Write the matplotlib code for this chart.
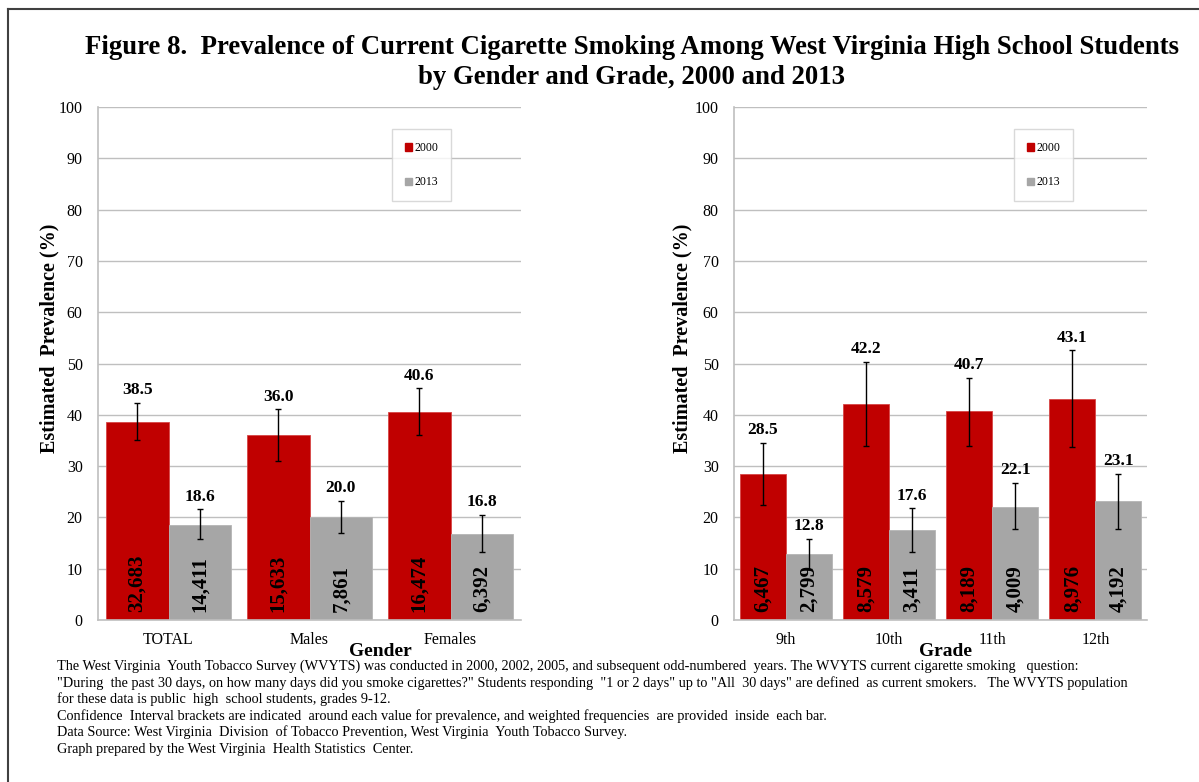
import matplotlib
matplotlib.use("Agg")
import matplotlib.pyplot as plt
from matplotlib.lines import Line2D
from matplotlib.patches import Patch
import numpy as np

plt.rcParams['font.family'] = ['Liberation Serif', 'DejaVu Serif']

# ---------------- data ----------------
gender_cats = ["TOTAL", "Males", "Females"]
gender_2000 = [38.5, 36.0, 40.6]
gender_2013 = [18.6, 20.0, 16.8]
gender_2000_lo = [35.1, 31.0, 36.1]
gender_2000_hi = [42.3, 41.1, 45.2]
gender_2013_lo = [15.8, 17.0, 13.3]
gender_2013_hi = [21.6, 23.2, 20.5]
gender_n2000 = ["32,683", "15,633", "16,474"]
gender_n2013 = ["14,411", "7,861", "6,392"]

grade_cats = ["9th", "10th", "11th", "12th"]
grade_2000 = [28.5, 42.2, 40.7, 43.1]
grade_2013 = [12.8, 17.6, 22.1, 23.1]
grade_2000_lo = [22.4, 33.9, 33.9, 33.7]
grade_2000_hi = [34.5, 50.3, 47.2, 52.6]
grade_2013_lo = [10.0, 13.3, 17.7, 17.7]
grade_2013_hi = [15.8, 21.8, 26.7, 28.5]
grade_n2000 = ["6,467", "8,579", "8,189", "8,976"]
grade_n2013 = ["2,799", "3,411", "4,009", "4,192"]

series_labels = ["2000", "2013"]
yticks = list(range(0, 101, 10))

title_lines = ["Figure 8.  Prevalence of Current Cigarette Smoking Among West Virginia High School Students",
               "by Gender and Grade, 2000 and 2013"]
footer_lines = [
    "The West Virginia  Youth Tobacco Survey (WVYTS) was conducted in 2000, 2002, 2005, and subsequent odd-numbered  years. The WVYTS current cigarette smoking   question:",
    "\"During  the past 30 days, on how many days did you smoke cigarettes?\" Students responding  \"1 or 2 days\" up to \"All  30 days\" are defined  as current smokers.   The WVYTS population",
    "for these data is public  high  school students, grades 9-12.",
    "Confidence  Interval brackets are indicated  around each value for prevalence, and weighted frequencies  are provided  inside  each bar.",
    "Data Source: West Virginia  Division  of Tobacco Prevention, West Virginia  Youth Tobacco Survey.",
    "Graph prepared by the West Virginia  Health Statistics  Center.",
]

RED = "#C00000"
GRAY = "#A6A6A6"
GRID = "#BFBFBF"

W, H = 1199, 782
fig = plt.figure(figsize=(W / 100, H / 100), dpi=100)


def px_axes(x0, x1, ytop, ybot):
    return fig.add_axes([x0 / W, 1 - ybot / H, (x1 - x0) / W, (ybot - ytop) / H])


def draw_panel(ax, cats, v0, v1, lo0, hi0, lo1, hi1, n0, n1, xlabel, legend_pos,
               ylab_x, xlab_x):
    x = np.arange(len(cats))
    bw = 0.445
    ax.bar(x - bw / 2, v0, width=bw, color=RED, edgecolor="#D64545", linewidth=0.6, zorder=2)
    ax.bar(x + bw / 2, v1, width=bw, color=GRAY, edgecolor="#B5B5B5", linewidth=0.6, zorder=2)
    v0a, v1a = np.array(v0), np.array(v1)
    err0 = [v0a - np.array(lo0), np.array(hi0) - v0a]
    err1 = [v1a - np.array(lo1), np.array(hi1) - v1a]
    ax.errorbar(x - bw / 2, v0, yerr=err0, fmt="none", ecolor="black", elinewidth=1.0,
                capsize=2.5, capthick=1.0, zorder=4)
    ax.errorbar(x + bw / 2, v1, yerr=err1, fmt="none", ecolor="black", elinewidth=1.0,
                capsize=2.5, capthick=1.0, zorder=4)
    for i in range(len(cats)):
        ax.text(x[i] - bw / 2, hi0[i] + 0.9, f"{v0[i]:.1f}", ha="center", va="bottom",
                fontsize=12.5, fontweight="bold", zorder=5)
        ax.text(x[i] + bw / 2, hi1[i] + 0.9, f"{v1[i]:.1f}", ha="center", va="bottom",
                fontsize=12.5, fontweight="bold", zorder=5)
        ax.text(x[i] - bw / 2, 1.6, n0[i], ha="center", va="bottom", rotation=90,
                fontsize=15, fontweight="bold", zorder=5)
        ax.text(x[i] + bw / 2, 1.6, n1[i], ha="center", va="bottom", rotation=90,
                fontsize=15, fontweight="bold", zorder=5)
    ax.set_xlim(-0.5, len(cats) - 0.5)
    ax.set_ylim(0, 100)
    ax.set_yticks(yticks)
    ax.set_xticks(x)
    ax.set_xticklabels(cats, fontsize=11.5)
    ax.tick_params(axis="both", length=0, labelsize=11.5)
    ax.tick_params(axis="y", pad=11)
    ax.tick_params(axis="x", pad=9)
    ax.grid(axis="y", color=GRID, linewidth=1.0, zorder=0)
    ax.set_axisbelow(True)
    for s in ["top", "right"]:
        ax.spines[s].set_visible(False)
    for s in ["left", "bottom"]:
        ax.spines[s].set_color(GRID)
        ax.spines[s].set_linewidth(1.2)
    ax.set_ylabel("Estimated  Prevalence (%)", fontsize=14.5, fontweight="bold")
    ax.yaxis.label.set_va("center")
    ax.yaxis.set_label_coords(ylab_x, (620 - 338) / 513)
    ax.set_xlabel(xlabel, fontsize=14, fontweight="bold")
    ax.xaxis.label.set_va("center")
    ax.xaxis.set_label_coords(xlab_x, -(652 - 620) / 513)
    handles = [Patch(facecolor=RED, edgecolor=RED), Patch(facecolor=GRAY, edgecolor=GRAY)]
    leg = ax.legend(handles, series_labels, loc="upper left", bbox_to_anchor=legend_pos,
                    fontsize=8.5, frameon=True, fancybox=False, handlelength=0.6,
                    handleheight=0.6, handletextpad=0.2, labelspacing=1.9,
                    borderpad=1.1, borderaxespad=0)
    leg.get_frame().set_edgecolor("#D0D0D0")
    leg.get_frame().set_linewidth(1.0)
    return ax


ax1 = px_axes(98, 521, 107, 620)
draw_panel(ax1, gender_cats, gender_2000, gender_2013, gender_2000_lo, gender_2000_hi,
           gender_2013_lo, gender_2013_hi, gender_n2000, gender_n2013, "Gender",
           ((392 - 98) / 423, (620 - 129) / 513),
           (49.5 - 98) / 423, (380 - 98) / 423)

ax2 = px_axes(734, 1147, 107, 620)
draw_panel(ax2, grade_cats, grade_2000, grade_2013, grade_2000_lo, grade_2000_hi,
           grade_2013_lo, grade_2013_hi, grade_n2000, grade_n2013, "Grade",
           ((1014 - 734) / 413, (620 - 129) / 513),
           (682 - 734) / 413, (945 - 734) / 413)

# title
fig.text(632 / W, 1 - 48 / H, title_lines[0], ha="center", va="center",
         fontsize=19.3, fontweight="bold")
fig.text(632 / W, 1 - 77 / H, title_lines[1], ha="center", va="center",
         fontsize=19.3, fontweight="bold")

# footer
footer_y = [666, 683, 699, 716, 732, 749]
for yy, line in zip(footer_y, footer_lines):
    fig.text(57 / W, 1 - yy / H, line, ha="left", va="center", fontsize=10.3)

# frame around figure (clipped at right/bottom)
fig.add_artist(Line2D([8 / W, 1.0], [1 - 9 / H, 1 - 9 / H], color="#404040", linewidth=1.5,
                      transform=fig.transFigure))
fig.add_artist(Line2D([8 / W, 8 / W], [1 - 9 / H, 0.0], color="#404040", linewidth=1.5,
                      transform=fig.transFigure))

fig.savefig("out.png", dpi=100)
